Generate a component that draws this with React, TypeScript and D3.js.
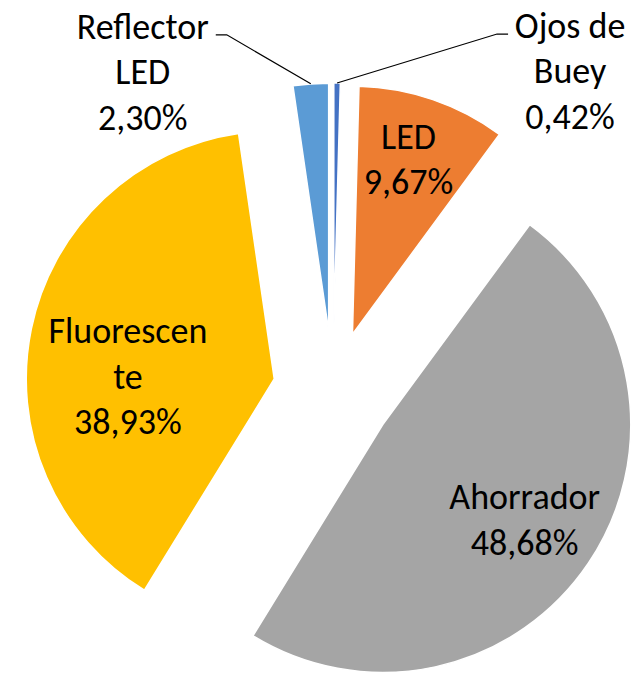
import { useEffect, useRef } from "react";
import * as d3 from "d3";

const categories = ["Ojos de Buey", "LED", "Ahorrador", "Fluorescente", "Reflector LED"];
const values = [0.42, 9.67, 48.68, 38.93, 2.3];
const colors = ["#4472C4", "#ED7D31", "#A5A5A5", "#FFC000", "#5B9BD5"];
const labelLines = [
  ["Ojos de", "Buey", "0,42%"],
  ["LED", "9,67%"],
  ["Ahorrador", "48,68%"],
  ["Fluorescen", "te", "38,93%"],
  ["Reflector", "LED", "2,30%"],
];

// label placement: inside (radius factor + angle shift) or outside with leader line
const labelLayout = [
  { outside: true, elbow: [160, -49], run: 11, textDx: 62 },
  { outside: false, r: 0.74, shift: -0.02 },
  { outside: false, r: 0.69, shift: 0 },
  { outside: false, r: 0.59, shift: -0.19 },
  { outside: true, elbow: [-84, -49], run: -11, textDx: -73 },
];

export default function App() {
  const svgRef = useRef<SVGSVGElement>(null);

  useEffect(() => {
    if (!svgRef.current) return;
    const width = 633;
    const height = 673;
    const cx = 333;
    const cy = 391;
    const radius = 248;
    const explode = 60;
    const fontSize = 36;
    const lineH = 45.5;

    const svg = d3.select(svgRef.current);
    svg.selectAll("*").remove();
    svg.attr("width", width).attr("height", height);

    const data = categories.map((c, i) => ({ name: c, value: values[i], i }));
    const pie = d3.pie<{ name: string; value: number; i: number }>()
      .sort(null)
      .value((d) => d.value);
    const arcs = pie(data);
    const arc = d3.arc<d3.PieArcDatum<any>>().innerRadius(0).outerRadius(radius);

    const g = svg.append("g").attr("transform", `translate(${cx},${cy})`);

    const offset = (d: d3.PieArcDatum<any>) => {
      const a = (d.startAngle + d.endAngle) / 2;
      return [Math.sin(a) * explode, -Math.cos(a) * explode];
    };

    g.selectAll("path")
      .data(arcs)
      .enter()
      .append("path")
      .attr("d", (d) => arc(d) as string)
      .attr("transform", (d) => `translate(${offset(d)})`)
      .attr("fill", (d) => colors[d.data.i])
      .attr("stroke", "#fff")
      .attr("stroke-width", 1.5)
      .attr("stroke-linejoin", "round");

    const textG = g.append("g")
      .attr("font-family", "Carlito, Calibri, 'Liberation Sans', sans-serif")
      .attr("font-size", fontSize)
      .attr("fill", "#000")
      .attr("text-anchor", "middle");

    arcs.forEach((d) => {
      const lay = labelLayout[d.data.i];
      const lines = labelLines[d.data.i];
      const [ox, oy] = offset(d);
      const mid = (d.startAngle + d.endAngle) / 2;
      let tx = 0;
      let ty = 0;
      if (lay.outside) {
        const px = ox + Math.sin(mid) * radius;
        const py = oy - Math.cos(mid) * radius;
        const ex = px + lay.elbow![0];
        const ey = py + lay.elbow![1];
        g.append("polyline")
          .attr("points", `${px},${py} ${ex},${ey} ${ex + lay.run!},${ey}`)
          .attr("fill", "none")
          .attr("stroke", "#000")
          .attr("stroke-width", 1.2);
        tx = ex + lay.run! + lay.textDx!;
        ty = ey - 8 + lineH;
      } else {
        const a = mid + lay.shift!;
        tx = ox + Math.sin(a) * radius * lay.r!;
        ty = oy - Math.cos(a) * radius * lay.r!;
      }
      const top = ty - ((lines.length - 1) * lineH) / 2;
      lines.forEach((line, k) => {
        textG.append("text")
          .attr("x", tx)
          .attr("y", top + k * lineH + fontSize * 0.33)
          .text(line);
      });
    });
  }, []);

  return (
    <svg
      ref={svgRef}
      style={{ position: "absolute", left: 0, top: 0, background: "#fff" }}
    />
  );
}
